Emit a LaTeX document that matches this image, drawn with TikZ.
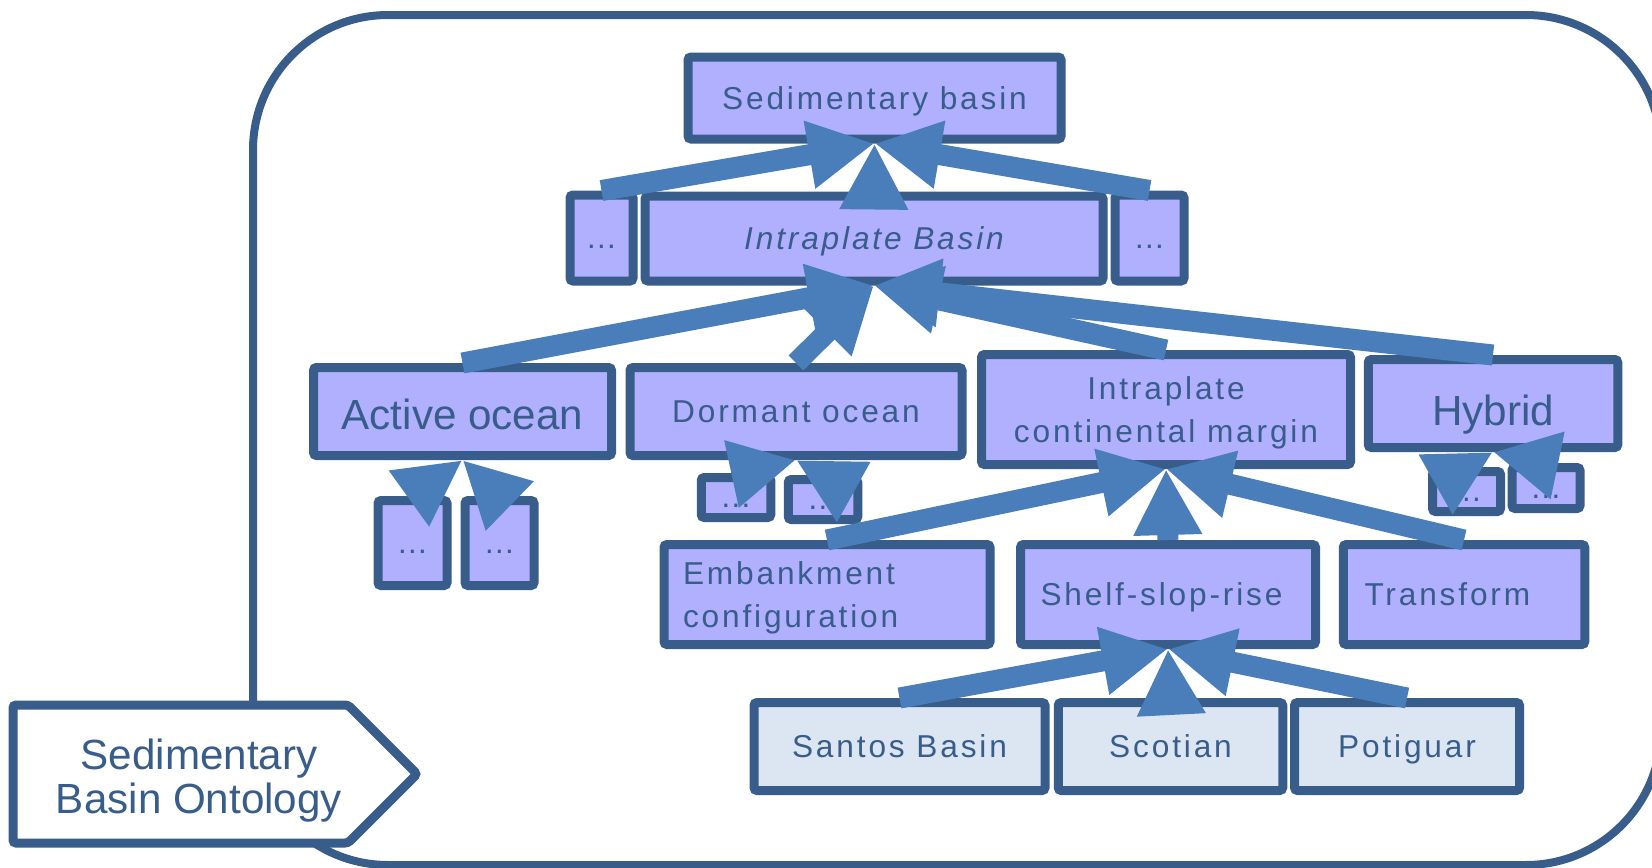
\documentclass[tikz,border=0pt]{standalone}
\usepackage{fontspec}
\setmainfont{Liberation Sans}
\newfontfamily\spacedfont[LetterSpace=9]{Liberation Sans}
\usetikzlibrary{arrows.meta}
\definecolor{ontoBorder}{HTML}{385D8A}
\definecolor{ontoFill}{HTML}{B0B0FF}
\definecolor{ontoLeaf}{HTML}{DCE6F2}
\definecolor{ontoArrow}{HTML}{4A7EBB}

\begin{document}
\begin{tikzpicture}[x=0.1mm, y=-0.1mm,
  font=\spacedfont\fontsize{9}{12}\selectfont, text=ontoBorder,
  cls/.style={draw=ontoBorder, line width=0.9mm, rounded corners=0.3mm, fill=ontoFill,
              inner sep=0pt, align=center, text depth=0pt},
  leaf/.style={cls, fill=ontoLeaf},
  dots/.style={cls, text height=2mm},
  big/.style={font=\fontsize{12}{12.5}\selectfont},
  frame/.style={draw=ontoBorder, line width=0.8mm, rounded corners=13.5mm,
                minimum width=140.8mm, minimum height=85mm},
  tag/.style={draw=ontoBorder, line width=0.9mm, fill=white, rounded corners=0.3mm},
  a/.style={-{Triangle[length=6.6mm, width=6.4mm]}, line width=2.1mm, draw=ontoArrow}
]
\useasboundingbox (0,0) rectangle (1652,868);
\clip (0,0) rectangle (1652,868);

\node[frame] (container) at (957,440) {};
\draw[tag] (13,705) -- (348,705) -- (417,774) -- (348,843) -- (13,843) -- cycle;
\node[big, align=center] (title) at (199,781) {Sedimentary\\Basin Ontology};

% top levels
\node[cls, minimum width=37.3mm, minimum height=8.2mm] (sed) at (874.5,98) {Sedimentary basin};
\node[dots, minimum width=6.3mm, minimum height=8.6mm] (dotsL) at (601.5,238) {…};
\node[cls, minimum width=45.8mm, minimum height=8.5mm] (ib) at (874,238.5) {\itshape Intraplate Basin};
\node[dots, minimum width=6.9mm, minimum height=8.6mm] (dotsR) at (1149.5,238) {…};

% basin kinds
\node[cls, big, text height=3.5mm, minimum width=29.8mm, minimum height=8.8mm] (active) at (462.5,411.5) {Active ocean};
\node[cls, minimum width=33.2mm, minimum height=8.8mm] (dormant) at (796,411.5) {Dormant ocean};
\node[cls, minimum width=36.9mm, minimum height=11mm] (icm) at (1166,409.5) {Intraplate\\continental margin};
\node[cls, big, text height=4.3mm, minimum width=24.95mm, minimum height=8.8mm] (hybrid) at (1493,403.5) {Hybrid};

\node[dots, minimum width=6.9mm, minimum height=8.5mm] (ac1) at (412.5,543) {…};
\node[dots, minimum width=6.9mm, minimum height=8.5mm] (ac2) at (499.5,543) {…};
\node[dots, minimum width=6.95mm, minimum height=4mm] (dc1) at (736,497.5) {…};
\node[dots, minimum width=6.95mm, minimum height=4mm] (dc2) at (823,499.5) {…};
\node[dots, minimum width=6.8mm, minimum height=4mm] (hc1) at (1466.5,491.5) {…};
\node[dots, minimum width=6.8mm, minimum height=4.1mm] (hc2) at (1546,488) {…};

% margin kinds
\node[cls, align=left, text depth=4.2mm, text width=28.8mm, minimum width=32.6mm, minimum height=10mm] (emb) at (827,594.5) {Embankment\\configuration};
\node[cls, align=left, text width=25.5mm, minimum width=29.5mm, minimum height=10mm] (shelf) at (1168,594.5) {Shelf-slop-rise};
\node[cls, align=left, text width=19.9mm, minimum width=24.15mm, minimum height=10mm] (transf) at (1464,594.5) {Transform};

% instances
\node[leaf, minimum width=29.1mm, minimum height=8.8mm] (santos) at (899.5,746.5) {Santos Basin};
\node[leaf, minimum width=22.45mm, minimum height=8.8mm] (scotian) at (1170.5,746.5) {Scotian};
\node[leaf, minimum width=22.5mm, minimum height=8.8mm] (potiguar) at (1407,746.5) {Potiguar};

\draw[a] (dotsL.north) -- (sed.south);
\draw[a] (ib.north) -- (sed.south);
\draw[a] (dotsR.north) -- (sed.south);
\draw[a] (active.north) -- (ib.south);
\draw[a] (dormant.north) -- (ib.south);
\draw[a] (icm.north) -- (ib.south);
\draw[a] (hybrid.north) -- (ib.south);
\draw[a] (ac1.north) -- (active.south);
\draw[a] (ac2.north) -- (active.south);
\draw[a] (dc1.north) -- (dormant.south);
\draw[a] (dc2.north) -- (dormant.south);
\draw[a] (hc1.north) -- (hybrid.south);
\draw[a] (hc2.north) -- (hybrid.south);
\draw[a] (emb.north) -- (icm.south);
\draw[a] (shelf.north) -- (icm.south);
\draw[a] (transf.north) -- (icm.south);
\draw[a] (santos.north) -- (shelf.south);
\draw[a] (scotian.north) -- (shelf.south);
\draw[a] (potiguar.north) -- (shelf.south);
\end{tikzpicture}
\end{document}
